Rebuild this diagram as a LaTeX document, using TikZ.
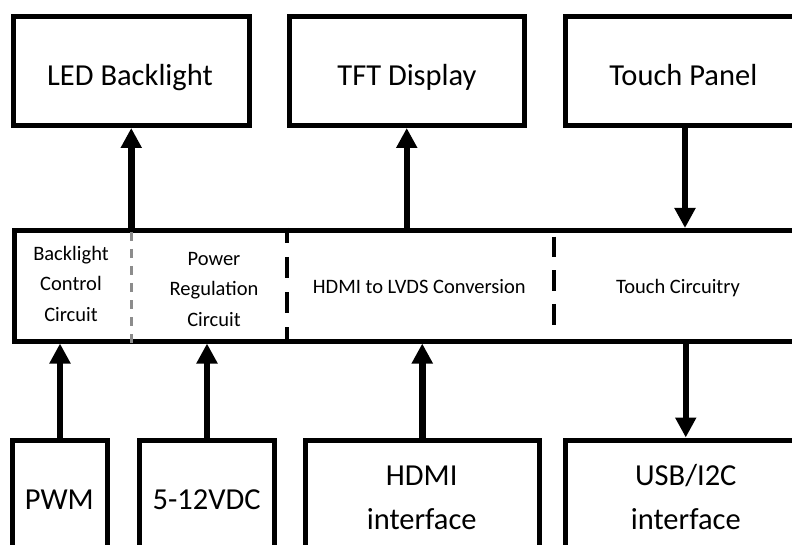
\documentclass[tikz,border=0pt]{standalone}
\usepackage{fontspec}
\setmainfont{Carlito}
\usetikzlibrary{arrows.meta}
\definecolor{divgray}{RGB}{140,140,140}
\begin{document}
\begin{tikzpicture}[x=1bp,y=-1bp,
  box/.style={draw, line width=5bp, rectangle, inner sep=0pt},
  bigtxt/.style={font=\fontsize{30.5bp}{36bp}\selectfont, anchor=base, inner sep=0pt},
  smalltxt/.style={font=\fontsize{20.5bp}{24bp}\selectfont, anchor=base, inner sep=0pt},
  arr/.style={line width=6.5bp, -{Triangle[width=20bp,length=20bp]}},
  blackdiv/.style={line width=4.5bp},
  graydiv/.style={line width=3.3bp, divgray, dash pattern=on 9bp off 8bp}
]
\useasboundingbox (0,0) rectangle (792,545);
\clip (0,0) rectangle (792,545);

% top boxes
\node[box, minimum width=235.5bp, minimum height=109bp] (led) at (131.25,71) {};
\node[box, minimum width=234.5bp, minimum height=109bp] (tft) at (406.75,71) {};
\node[box, minimum width=235.5bp, minimum height=109bp] (touch) at (683.3,71) {};
\node[bigtxt] (ledt) at (130,86) {LED Backlight};
\node[bigtxt] (tftt) at (407,86) {TFT Display};
\node[bigtxt] (toucht) at (683.3,86) {Touch Panel};

% middle bar
\node[box, minimum width=785.3bp, minimum height=110.5bp] (bar) at (407.35,285.75) {};
\draw[graydiv] (131.7,0 |- bar.north) ++(0,4) -- (131.7,0 |- bar.south);
\draw[blackdiv, dash pattern=on 21bp off 14bp, dash phase=6bp] (287,0 |- bar.north) -- (287,0 |- bar.south);
\coordinate (d2t) at (554,236.7);
\coordinate (d2b) at (554,328.3);
\draw[blackdiv, dash pattern=on 20.6bp off 13bp] (d2t) -- (d2b);

\node[smalltxt] (b1) at (71,260.7) {Backlight};
\node[smalltxt] (b2) at (71,291) {Control};
\node[smalltxt] (b3) at (71,321.3) {Circuit};
\node[smalltxt] (p1) at (214,265.7) {Power};
\node[smalltxt] (p2) at (214,296) {Regulation};
\node[smalltxt] (p3) at (214,326.3) {Circuit};
\node[smalltxt] (hl) at (419.3,294) {HDMI to LVDS Conversion};
\node[smalltxt] (tc) at (678,294) {Touch Circuitry};

% bottom boxes
\node[box, minimum width=95bp, minimum height=120bp] (pwm) at (60,500) {};
\node[box, minimum width=135bp, minimum height=120bp] (vdc) at (207,500) {};
\node[box, minimum width=234.5bp, minimum height=120bp] (hdmi) at (422.25,500) {};
\node[box, minimum width=240.5bp, minimum height=120bp] (usb) at (685.75,500) {};
\node[bigtxt] (pwmt) at (59.3,509.3) {PWM};
\node[bigtxt] (vdct) at (206.7,509) {5-12VDC};
\node[bigtxt] (hdmit1) at (421.7,485) {HDMI};
\node[bigtxt] (hdmit2) at (421.7,529.5) {interface};
\node[bigtxt] (usbt1) at (685.8,485) {USB/I2C};
\node[bigtxt] (usbt2) at (685.8,529.5) {interface};

% connectors
\draw[arr] (bar.north -| led.south) -- (led.south);
\draw[arr] (bar.north -| tft.south) -- (tft.south);
\coordinate (tp) at (685,0 |- touch.south);
\draw[arr] (tp) -- (tp |- bar.north);
\draw[arr] (pwm.north) -- (pwm.north |- bar.south);
\draw[arr] (vdc.north) -- (vdc.north |- bar.south);
\draw[arr] (hdmi.north) -- (hdmi.north |- bar.south);
\draw[arr] (bar.south -| usb.north) -- (usb.north);
\end{tikzpicture}
\end{document}
